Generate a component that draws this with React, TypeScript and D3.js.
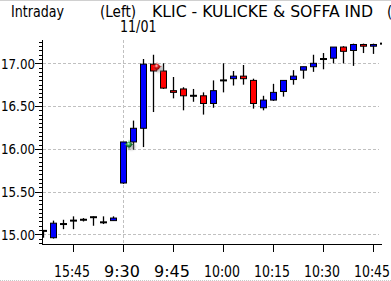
import React from "react";
import * as d3 from "d3";

const opens = [15.04, 14.96, 15.12, 15.16, 15.17, 15.20, 15.14, 15.16, 15.60, 16.08, 16.24, 16.99, 16.91, 16.68, 16.70, 16.62, 16.62, 16.53, 16.80, 16.82, 16.85, 16.80, 16.48, 16.57, 16.67, 16.81, 16.92, 16.96, 17.05, 17.06, 17.19, 17.15, 17.22, 17.20, 17.23];
const highs = [15.05, 15.16, 15.17, 15.21, 15.19, 15.21, 15.21, 15.21, 16.08, 16.33, 17.05, 17.10, 17.00, 16.84, 16.72, 16.70, 16.66, 16.80, 17.00, 16.91, 16.98, 16.82, 16.62, 16.76, 16.80, 16.92, 16.96, 17.10, 17.12, 17.19, 17.20, 17.23, 17.23, 17.23, 17.23];
const lows = [14.96, 14.95, 15.06, 15.06, 15.15, 15.10, 15.12, 15.16, 15.59, 15.99, 16.02, 16.43, 16.70, 16.59, 16.45, 16.55, 16.40, 16.48, 16.66, 16.74, 16.75, 16.47, 16.45, 16.56, 16.61, 16.75, 16.82, 16.90, 16.93, 17.00, 17.00, 16.97, 17.12, 17.11, 17.23];
const closes = [15.04, 15.13, 15.12, 15.16, 15.17, 15.20, 15.14, 15.19, 16.08, 16.24, 16.99, 16.91, 16.71, 16.66, 16.62, 16.62, 16.53, 16.68, 16.80, 16.85, 16.82, 16.53, 16.57, 16.66, 16.80, 16.85, 16.96, 17.00, 17.05, 17.19, 17.14, 17.22, 17.20, 17.22, 17.23];

const xTickIdx = [3, 8, 13, 18, 23, 28, 33];
const xTickLabels = ["15:45", "9:30", "9:45", "10:00", "10:15", "10:30", "10:45"];
const yTicks = [15.0, 15.5, 16.0, 16.5, 17.0];
const yTickLabels = ["15.00", "15.50", "16.00", "16.50", "17.00"];
const dayBreakIdx = 8;
const buyMarker = { idx: 8.6, price: 16.05 };
const sellMarker = { idx: 11.4, price: 16.96 };

const W = 391, H = 281;
const FONT = "'Liberation Sans Narrow', 'DejaVu Sans Condensed', 'Liberation Sans', sans-serif";

export default function App() {
  const x = d3.scaleLinear().domain([0, 34]).range([43, 383]);
  const y = d3.scaleLinear().domain([15, 17]).range([234.3, 63.3]);
  const plotTop = 40, plotBottom = 244, axisX = 42;
  const minor = d3.range(14.9, 17.26, 0.05).map((v) => Math.round(v * 100) / 100);
  const px = (v: number) => Math.round(v) + 0.5;

  return (
    <svg width={W} height={H} style={{ position: "absolute", left: 0, top: 0, background: "#fff" }}>
      <defs>
        <radialGradient id="gG" cx="40%" cy="35%" r="65%">
          <stop offset="0%" stopColor="#c8ffd0" />
          <stop offset="50%" stopColor="#2e9a4a" />
          <stop offset="100%" stopColor="#0b4d22" />
        </radialGradient>
        <radialGradient id="gR" cx="40%" cy="35%" r="65%">
          <stop offset="0%" stopColor="#ffd0d0" />
          <stop offset="50%" stopColor="#e02020" />
          <stop offset="100%" stopColor="#7a0000" />
        </radialGradient>
        <filter id="blur" x="-50%" y="-50%" width="200%" height="200%">
          <feGaussianBlur stdDeviation="1.2" />
        </filter>
        <clipPath id="plotClip">
          <rect x={43} y={35} width={339} height={210} />
        </clipPath>
      </defs>
      <rect x={0} y={0} width={W} height={H} fill="#fff" />
      <line x1={0} x2={W} y1={0.5} y2={0.5} stroke="#d0d0d0" />
      <line x1={0} x2={W} y1={280.5} y2={280.5} stroke="#c8c8c8" strokeDasharray="1,1" />

      {/* titles */}
      <text x={11} y={17} fontFamily={FONT} fontSize={15} textLength={53} lengthAdjust="spacingAndGlyphs">Intraday</text>
      <text x={100} y={17} fontFamily={FONT} fontSize={15} textLength={36} lengthAdjust="spacingAndGlyphs">(Left)</text>
      <text x={152} y={17} fontFamily={FONT} fontSize={15} textLength={221} lengthAdjust="spacingAndGlyphs">KLIC - KULICKE &amp; SOFFA IND</text>
      <text x={387} y={17} fontFamily={FONT} fontSize={15}>(3 Min)</text>
      <text x={120} y={31.5} fontFamily={FONT} fontSize={15} textLength={36.5} lengthAdjust="spacingAndGlyphs">11/01</text>

      {/* grid */}
      {yTicks.map((t) => (
        <line key={"g" + t} x1={43} x2={379} y1={px(y(t))} y2={px(y(t))} stroke="#c0c0c0" strokeDasharray="3,2" />
      ))}
      <line x1={px(x(dayBreakIdx))} x2={px(x(dayBreakIdx))} y1={plotTop} y2={plotBottom} stroke="#c0c0c0" strokeDasharray="3,2" />

      {/* left axis */}
      <line x1={axisX + 0.5} x2={axisX + 0.5} y1={plotTop} y2={plotBottom + 1} stroke="#000" />
      {minor.map((t) => (
        <line key={"m" + t} x1={39} x2={axisX} y1={px(y(t))} y2={px(y(t))} stroke="#000" />
      ))}
      {yTicks.map((t, i) => (
        <g key={"yt" + t}>
          <line x1={35} x2={axisX} y1={px(y(t))} y2={px(y(t))} stroke="#000" />
          <text x={1} y={y(t) + 5.3} fontFamily={FONT} fontSize={14.5} textLength={34} lengthAdjust="spacingAndGlyphs">{yTickLabels[i]}</text>
        </g>
      ))}

      {/* bottom axis */}
      <line x1={axisX} x2={382} y1={244.5} y2={244.5} stroke="#000" />
      {xTickIdx.map((idx, i) => (
        <g key={"xt" + idx}>
          <line x1={px(x(idx))} x2={px(x(idx))} y1={245} y2={252} stroke="#000" />
          <text x={x(idx) - 1} y={277} textAnchor="middle" fontFamily={FONT} fontSize={15.5} textLength={36} lengthAdjust="spacingAndGlyphs">{xTickLabels[i]}</text>
        </g>
      ))}

      {/* candles */}
      <g clipPath="url(#plotClip)">
        {opens.map((o, i) => {
          const c = closes[i];
          const cx = px(x(i));
          const yh = y(highs[i]);
          const yl = y(lows[i]);
          const doji = Math.abs(o - c) < 0.015;
          const top = y(Math.max(o, c));
          const bot = y(Math.min(o, c));
          return (
            <g key={"c" + i}>
              <line x1={cx} x2={cx} y1={yh} y2={yl} stroke="#000" strokeWidth={1.3} />
              {doji ? (
                <rect x={cx - 3.5} y={top - 1} width={7} height={2} fill="#000" />
              ) : (
                <rect x={cx - 3} y={top} width={6} height={Math.max(bot - top, 1)} fill={c > o ? "#0000ff" : "#ff0000"} stroke="#000" strokeWidth={1} />
              )}
            </g>
          );
        })}
      </g>

      {/* trade markers */}
      <g transform={`translate(${x(buyMarker.idx)},${y(buyMarker.price)})`}>
        <ellipse cx={2} cy={2} rx={4.5} ry={3.5} fill="#888" opacity={0.5} filter="url(#blur)" />
        <path d="M-5,0 L-1,-1 L0,-5 L1,-1 L5,0 L1,1 L0,5 L-1,1 Z" fill="url(#gG)" />
        <circle r={2.8} fill="url(#gG)" />
      </g>
      <g transform={`translate(${x(sellMarker.idx)},${y(sellMarker.price)})`}>
        <ellipse cx={2} cy={2} rx={4.5} ry={3.5} fill="#888" opacity={0.5} filter="url(#blur)" />
        <path d="M-5,0 L-1,-1 L0,-5 L1,-1 L5,0 L1,1 L0,5 L-1,1 Z" fill="url(#gR)" />
        <circle r={2.8} fill="url(#gR)" />
      </g>
    </svg>
  );
}
